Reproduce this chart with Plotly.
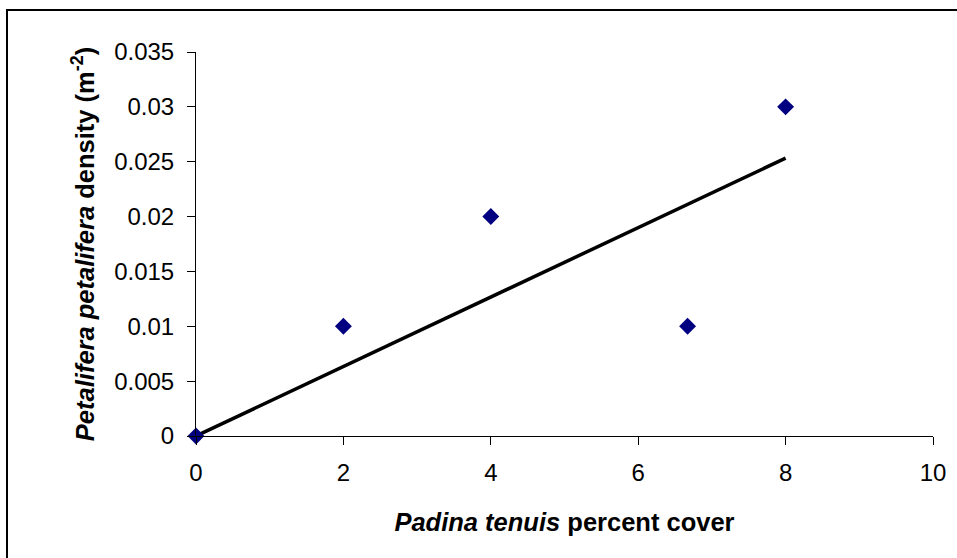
import numpy as np
import plotly.graph_objects as go

# Data
padina_cover = [0, 2, 4, 6.67, 8]
petalifera_density = [0, 0.01, 0.02, 0.01, 0.03]

x_ticks = [0, 2, 4, 6, 8, 10]
y_ticks = [0, 0.005, 0.01, 0.015, 0.02, 0.025, 0.03, 0.035]
y_tick_labels = ["0", "0.005", "0.01", "0.015", "0.02", "0.025", "0.03", "0.035"]

# Linear trend through origin (Excel-style, intercept = 0)
xa = np.array(padina_cover)
ya = np.array(petalifera_density)
slope = float((xa * ya).sum() / (xa * xa).sum())
trend_x = [xa.min(), xa.max()]
trend_y = [slope * v for v in trend_x]

FONT = "Liberation Sans, Arial, sans-serif"
FS = 24
TFS = 25.5

fig = go.Figure()
fig.add_trace(go.Scatter(
    x=trend_x, y=trend_y, mode="lines",
    line=dict(color="black", width=3.5),
    showlegend=False, hoverinfo="skip", cliponaxis=False,
))
fig.add_trace(go.Scatter(
    x=padina_cover, y=petalifera_density, mode="markers",
    marker=dict(symbol="diamond", size=13, color="#000080",
                line=dict(width=0)),
    showlegend=False, cliponaxis=False,
))

W, H = 957, 558
L, R, T, B = 196, 24, 52, 122
pw, ph = W - L - R, H - T - B

def px_x(p):
    return (p - L) / pw

def px_y(p):
    return (H - B - p) / ph

fig.add_shape(type="rect", xref="paper", yref="paper",
              x0=px_x(7), x1=px_x(W + 20), y0=px_y(H + 20), y1=px_y(10),
              line=dict(color="black", width=2), fillcolor="rgba(0,0,0,0)",
              layer="below")

fig.update_layout(
    width=W, height=H,
    margin=dict(l=L, r=R, t=T, b=B, autoexpand=False),
    paper_bgcolor="white", plot_bgcolor="white",
    font=dict(family=FONT, size=FS, color="black"),
    xaxis=dict(
        range=[0, 10], tickvals=x_ticks, ticktext=[str(v) for v in x_ticks],
        showgrid=False, zeroline=False, showline=True, linecolor="black",
        linewidth=1, ticks="outside", ticklen=8, tickcolor="black",
        ticklabelstandoff=7,
        tickfont=dict(family=FONT, size=FS, color="black"),
        title=dict(text="<b><i>Padina tenuis</i> percent cover</b>",
                   font=dict(family=FONT, size=TFS, color="black"),
                   standoff=28),
    ),
    yaxis=dict(
        range=[0, 0.035], tickvals=y_ticks, ticktext=y_tick_labels,
        showgrid=False, zeroline=False, showline=True, linecolor="black",
        linewidth=1, ticks="outside", ticklen=8, tickcolor="black",
        ticklabelstandoff=8,
        tickfont=dict(family=FONT, size=FS, color="black"),
        title=dict(text="<b><i>Petalifera petalifera</i> density (m<sup>-2</sup>)</b>",
                   font=dict(family=FONT, size=TFS, color="black"),
                   standoff=12),
    ),
)

fig.write_html("out.html")
